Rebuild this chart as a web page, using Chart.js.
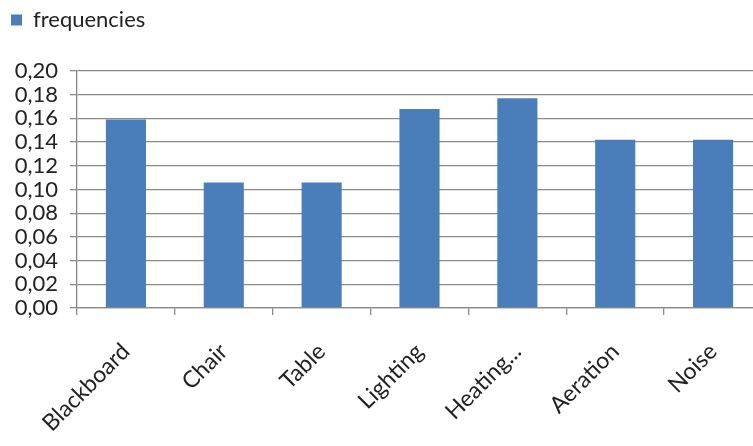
<!DOCTYPE html>
<html>
<head>
<meta charset="utf-8">
<script src="https://cdn.jsdelivr.net/npm/chart.js@4/dist/chart.umd.min.js"></script>
<style>
  html, body { margin: 0; padding: 0; background: #ffffff; overflow: hidden; }
  #wrap { width: 766px; height: 446px; }
</style>
</head>
<body>
<div id="wrap"><canvas id="chart" width="766" height="446"></canvas></div>
<script>
// Room factors and their relative frequencies
const categories = ['Blackboard', 'Chair', 'Table', 'Lighting', 'Heating...', 'Aeration', 'Noise'];
const frequencies = [0.159, 0.106, 0.106, 0.168, 0.177, 0.142, 0.142];
const seriesName = 'frequencies';
const yTicks = [0, 0.02, 0.04, 0.06, 0.08, 0.10, 0.12, 0.14, 0.16, 0.18, 0.20];

const FONT = 'Lato, "Open Sans", sans-serif';
const BAR = '#4a7ebb';
const GRID = '#8a8a8a';

// Extra space under the legend so the plot starts lower
const legendSpacer = {
  id: 'legendSpacer',
  beforeInit(chart) {
    const fit = chart.legend.fit;
    chart.legend.fit = function () {
      fit.call(this);
      this.height += 30;
    };
  }
};

new Chart(document.getElementById('chart'), {
  type: 'bar',
  data: {
    labels: categories,
    datasets: [{
      label: seriesName,
      data: frequencies,
      backgroundColor: BAR,
      borderWidth: 0,
      barPercentage: 0.41,
      categoryPercentage: 1.0
    }]
  },
  options: {
    responsive: false,
    animation: false,
    devicePixelRatio: 1,
    layout: { padding: { left: 2, right: 4, top: 0, bottom: 0 } },
    plugins: {
      legend: {
        display: true,
        position: 'top',
        align: 'start',
        labels: {
          boxWidth: 11,
          boxHeight: 11,
          padding: 9,
          color: '#222222',
          font: { family: FONT, size: 22 }
        }
      },
      tooltip: { enabled: false }
    },
    scales: {
      x: {
        grid: {
          display: true,
          drawOnChartArea: false,
          drawTicks: true,
          tickLength: 7,
          color: GRID,
          lineWidth: 1.3,
          offset: true
        },
        border: { display: true, color: GRID, width: 1.3 },
        ticks: {
          color: '#222222',
          font: { family: FONT, size: 23 },
          minRotation: 45,
          maxRotation: 45,
          padding: 23,
          autoSkip: false
        },
        afterFit(scale) { scale.height = 138; }
      },
      y: {
        min: 0,
        max: 0.2,
        afterBuildTicks(scale) { scale.ticks = yTicks.map(v => ({ value: v })); },
        grid: {
          color: GRID,
          lineWidth: 1.3,
          drawTicks: true,
          tickLength: 7
        },
        border: { display: true, color: GRID, width: 1.3 },
        ticks: {
          color: '#222222',
          font: { family: FONT, size: 22 },
          padding: 12,
          autoSkip: false,
          callback: v => Number(v).toFixed(2).replace('.', ',')
        },
        afterFit(scale) { scale.width = 75; }
      }
    }
  },
  plugins: [legendSpacer]
});
</script>
</body>
</html>
